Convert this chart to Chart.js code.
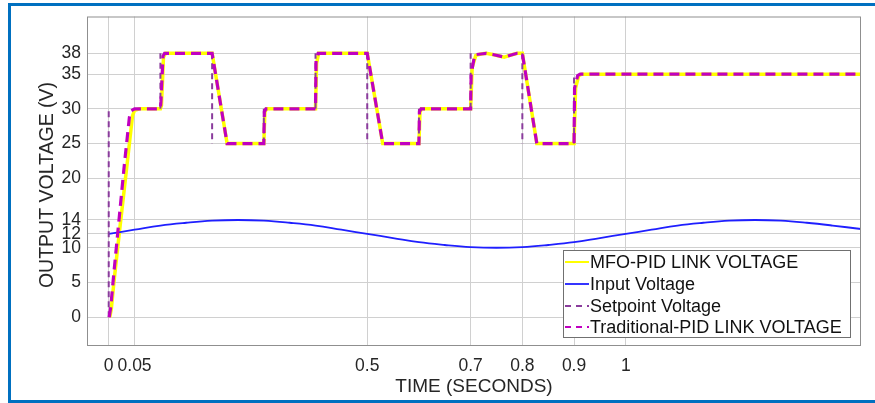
<!DOCTYPE html>
<html>
<head>
<meta charset="utf-8">
<script src="https://cdn.jsdelivr.net/npm/chart.js@4.4.1/dist/chart.umd.min.js"></script>
<style>
  body { margin: 0; background: #fff; }
  #wrap { position: relative; width: 875px; height: 403px; }
</style>
</head>
<body>
<div id="wrap"><canvas id="voltChart" width="875" height="403"></canvas></div>
<script>
// tick labels
const xTicks = [0, 0.05, 0.5, 0.7, 0.8, 0.9, 1];
const yTicks = [0, 5, 10, 12, 14, 20, 25, 30, 35, 38];

// MFO-PID link voltage (yellow)
const mfoTime = [0.002, 0.005, 0.01, 0.02, 0.03, 0.04, 0.046, 0.05, 0.06, 0.1, 0.102, 0.106, 0.11, 0.2, 0.229, 0.3, 0.302, 0.305,
  0.4, 0.402, 0.406, 0.5, 0.53, 0.6, 0.602, 0.605, 0.7, 0.703, 0.71, 0.72, 0.73, 0.745, 0.765, 0.78, 0.79, 0.8, 0.828,
  0.9, 0.903, 0.909, 0.915, 1.455];
const mfoVolt = [0, 1.2, 5, 11.8, 18.4, 25, 29, 29.8, 30, 30, 30.5, 37.5, 38, 38, 25, 25, 29.5, 30,
  30, 36.5, 38, 38, 25, 25, 29.5, 30, 30, 36, 37.7, 37.9, 38, 37.8, 37.45, 37.8, 38, 38, 25,
  25, 33, 34.8, 35, 35];

// input voltage (blue)
const inTime = [0, 0.05, 0.1, 0.15, 0.2, 0.25, 0.3, 0.35, 0.4, 0.45, 0.5, 0.55, 0.6, 0.65, 0.7, 0.75, 0.8, 0.85,
  0.9, 0.95, 1, 1.05, 1.1, 1.15, 1.2, 1.25, 1.3, 1.35, 1.4, 1.455];
const inVolt = [12, 12.6, 13.2, 13.6, 13.9, 14, 13.9, 13.6, 13.2, 12.6, 12, 11.4, 10.8, 10.4, 10.1, 10, 10.1, 10.4,
  10.8, 11.4, 12, 12.6, 13.2, 13.6, 13.9, 14, 13.9, 13.6, 13.2, 12.7];

// setpoint voltage (thin purple dashes) - only the step edges show,
// null breaks the line between them
const spTime = [0, 0, 0, 0.1, 0.1, 0.1, 0.2, 0.2, 0.2, 0.3, 0.3, 0.3, 0.4, 0.4, 0.4, 0.5, 0.5, 0.5,
  0.6, 0.6, 0.6, 0.7, 0.7, 0.7, 0.8, 0.8, 0.8, 0.9, 0.9];
const spVolt = [0, 30, null, 30, 38, null, 38, 25, null, 25, 30, null, 30, 38, null, 38, 25, null,
  25, 30, null, 30, 38, null, 38, 25, null, 25, 35];

// traditional PID link voltage (magenta dashes)
const pidTime = [0.001, 0.004, 0.01, 0.02, 0.03, 0.04, 0.043, 0.05, 0.1, 0.101, 0.105, 0.108, 0.2, 0.229, 0.3, 0.301, 0.304,
  0.4, 0.401, 0.405, 0.5, 0.53, 0.6, 0.601, 0.604, 0.7, 0.701, 0.708, 0.72, 0.73, 0.745, 0.765, 0.78, 0.79, 0.8, 0.828,
  0.9, 0.901, 0.907, 0.912, 1.455];
const pidVolt = [0, 1.5, 6.4, 14.1, 21.8, 28.8, 29.7, 30, 30, 31, 37.6, 38, 38, 25, 25, 29.6, 30,
  30, 37, 38, 38, 25, 25, 29.6, 30, 30, 35, 37.8, 37.9, 38, 37.8, 37.45, 37.8, 38, 38, 25,
  25, 33, 34.8, 35, 35];

function pts(xs, ys) {
  return xs.map((x, i) => ({ x: x, y: ys[i] }));
}

const FONT = '"Liberation Sans", Arial, Helvetica, sans-serif';

// frame, box, axis titles and legend
const decor = {
  id: 'decor',
  beforeDraw(chart) {
    const c = chart.ctx;
    c.save();
    c.fillStyle = '#fff';
    c.fillRect(0, 0, chart.width, chart.height);
    c.fillStyle = '#0070c0';
    c.fillRect(8, 3, 3, 400);
    c.fillRect(8, 3, 867, 3);
    c.fillRect(8, 400, 867, 3);
    c.restore();
  },
  afterDraw(chart) {
    const c = chart.ctx;
    const a = chart.chartArea;
    c.save();
    c.strokeStyle = '#8f8f8f';
    c.lineWidth = 1;
    c.strokeRect(a.left + 0.5, a.top + 0.5, a.right - a.left - 1, a.bottom - a.top);

    c.fillStyle = '#262626';
    c.font = '19px ' + FONT;
    c.textAlign = 'center';
    c.textBaseline = 'middle';
    c.fillText('TIME (SECONDS)', 474, 387);
    c.translate(48, 185);
    c.rotate(-Math.PI / 2);
    c.font = '19.5px ' + FONT;
    c.fillText('OUTPUT VOLTAGE (V)', 0, 0);
    c.restore();

    // legend box
    c.save();
    c.fillStyle = '#fff';
    c.fillRect(563, 250, 288, 88);
    c.strokeStyle = '#707070';
    c.lineWidth = 1;
    c.strokeRect(563.5, 250.5, 287, 87);
    const rows = [262, 284, 306, 327];
    c.font = '18px ' + FONT;
    c.textAlign = 'left';
    c.textBaseline = 'middle';
    chart.data.datasets.forEach((ds, i) => {
      c.strokeStyle = ds.borderColor;
      c.lineWidth = Math.min(ds.borderWidth, 2);
      c.setLineDash(ds.borderDash ? [6, 5] : []);
      c.beginPath();
      c.moveTo(565, rows[i]);
      c.lineTo(589, rows[i]);
      c.stroke();
      c.setLineDash([]);
      c.fillStyle = '#111';
      c.fillText(ds.label, 590, rows[i] + 1);
    });
    c.restore();
  }
};

new Chart(document.getElementById('voltChart'), {
  type: 'line',
  data: {
    datasets: [
      { label: 'MFO-PID LINK VOLTAGE', data: pts(mfoTime, mfoVolt), borderColor: '#ffff00', borderWidth: 3.5, order: 4 },
      { label: 'Input Voltage', data: pts(inTime, inVolt), borderColor: '#1f1fff', borderWidth: 1.8, tension: 0.4, order: 3 },
      { label: 'Setpoint Voltage', data: pts(spTime, spVolt), borderColor: '#8a3c9c', borderWidth: 2, borderDash: [6, 4], spanGaps: false, order: 2 },
      { label: 'Traditional-PID LINK VOLTAGE', data: pts(pidTime, pidVolt), borderColor: '#c000c0', borderWidth: 3.2, borderDash: [10, 6], order: 1 }
    ]
  },
  plugins: [decor],
  options: {
    responsive: false,
    animation: false,
    elements: { point: { radius: 0 }, line: { tension: 0, fill: false } },
    layout: { padding: { left: 0, right: 14, top: 15, bottom: 0 } },
    plugins: { legend: { display: false }, tooltip: { enabled: false } },
    scales: {
      x: {
        type: 'linear',
        min: -0.042,
        max: 1.455,
        afterBuildTicks: (s) => { s.ticks = xTicks.map(v => ({ value: v })); },
        afterFit: (s) => { s.height = 58; },
        grid: { color: '#d0d0d0', drawTicks: false },
        border: { display: false },
        ticks: {
          autoSkip: false, maxRotation: 0, padding: 11,
          color: '#262626', font: { family: FONT, size: 17.5 },
          callback: (v) => String(v)
        }
      },
      y: {
        type: 'linear',
        min: -4,
        max: 43.3,
        afterBuildTicks: (s) => { s.ticks = yTicks.map(v => ({ value: v })); },
        afterFit: (s) => { s.width = 87; },
        grid: { color: '#d0d0d0', drawTicks: false },
        border: { display: false },
        ticks: {
          autoSkip: false, padding: 6,
          color: '#262626', font: { family: FONT, size: 17.5 },
          callback: (v) => String(v)
        }
      }
    }
  }
});
</script>
</body>
</html>
